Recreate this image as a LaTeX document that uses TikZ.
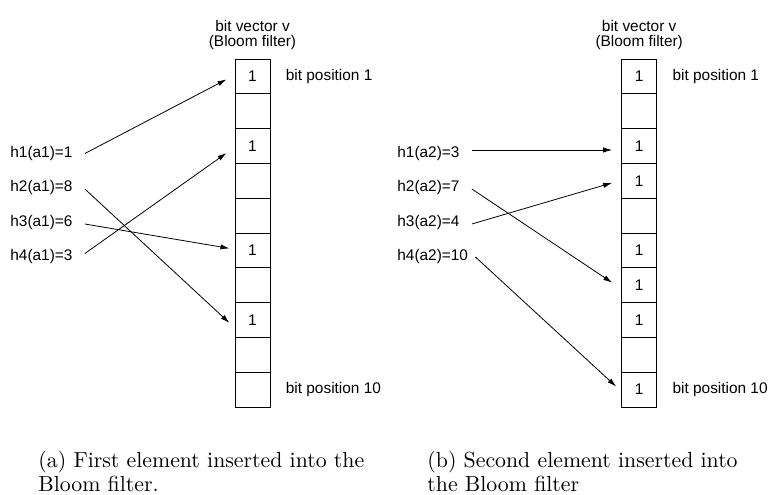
\documentclass[tikz,border=0pt]{standalone}
\usepackage{fontspec}
\newfontfamily\arialfont{Liberation Sans}
\usetikzlibrary{positioning,arrows.meta}

\tikzset{
  sans/.style={font=\arialfont\fontsize{7.7}{7.2}\selectfont},
  bitcell/.style={draw, line width=0.5pt, minimum width=17.5pt, minimum height=17.4pt, inner sep=0pt},
  bitval/.style={sans, inner sep=0pt},
  hashlbl/.style={sans, anchor=west, inner sep=0pt},
  hasharrow/.style={-{Latex[length=4.5pt,width=2.6pt]}, line width=0.4pt},
  subcap/.style={anchor=base west, inner sep=0pt, font=\fontsize{10.9}{13}\selectfont},
}

\begin{document}
\begin{tikzpicture}[x=0.5pt, y=-0.5pt, node distance=7.5pt]
  \useasboundingbox (0,0) rectangle (772,494);

  % two bit vectors of ten cells
  \foreach \i in {1,...,10} {
    \node[bitcell] (a\i) at (252.5, {59+34.8*(\i-0.5)}) {};
    \node[bitcell] (b\i) at (639.2, {59+34.8*(\i-0.5)}) {};
  }
  \foreach \i in {1,3,6,8}
    \node[bitval] (av\i) at (a\i) {1};
  \foreach \i in {1,3,4,6,7,8,10}
    \node[bitval] (bv\i) at (b\i) {1};

  \node[sans, align=center, inner sep=0pt, above=4.4pt of a1] (atitle) {bit vector v\\(Bloom filter)};
  \node[sans, inner sep=0pt, right=of a1] (apos1) {bit position 1};
  \node[sans, inner sep=0pt, right=of a10] (apos10) {bit position 10};
  \node[sans, align=center, inner sep=0pt, above=4.4pt of b1] (btitle) {bit vector v\\(Bloom filter)};
  \node[sans, inner sep=0pt, right=of b1] (bpos1) {bit position 1};
  \node[sans, inner sep=0pt, right=of b10] (bpos10) {bit position 10};

  % hashes of a1
  \node[hashlbl] (ah1) at (10,153.5) {h1(a1)=1};
  \node[hashlbl] (ah2) at (10,188) {h2(a1)=8};
  \node[hashlbl] (ah3) at (10,222.5) {h3(a1)=6};
  \node[hashlbl] (ah4) at (10,257) {h4(a1)=3};
  \draw[hasharrow] ([shift={(12,0)}]ah1.east) -- ([shift={(-8,3)}]a1.west);
  \draw[hasharrow] ([shift={(12,1)}]ah2.east) -- ([shift={(-5,3)}]a8.west);
  \draw[hasharrow] ([shift={(12,1.5)}]ah3.east) -- ([shift={(-5,-2)}]a6.west);
  \draw[hasharrow] ([shift={(12,-3.5)}]ah4.east) -- ([shift={(-8,7)}]a3.west);

  % hashes of a2
  \node[hashlbl] (bh1) at (397,153.5) {h1(a2)=3};
  \node[hashlbl] (bh2) at (397,188) {h2(a2)=7};
  \node[hashlbl] (bh3) at (397,222.5) {h3(a2)=4};
  \node[hashlbl] (bh4) at (397,257) {h4(a2)=10};
  \draw[hasharrow] ([shift={(12,-3.5)}]bh1.east) -- ([shift={(-9,4)}]b3.west);
  \draw[hasharrow] ([shift={(12,1)}]bh2.east) -- ([shift={(-9,-2.5)}]b7.west);
  \draw[hasharrow] ([shift={(12,1.5)}]bh3.east) -- ([shift={(-9,2)}]b4.west);
  \draw[hasharrow] ([shift={(7,0)}]bh4.east) -- ([shift={(-5,-3)}]b10.west);

  \node[subcap] (acap1) at (38,467) {(a) First element inserted into the};
  \node[subcap] (acap2) at (38,491) {Bloom filter.};
  \node[subcap] (bcap1) at (427,467) {(b) Second element inserted into};
  \node[subcap] (bcap2) at (427,491) {the Bloom filter};
\end{tikzpicture}
\end{document}
